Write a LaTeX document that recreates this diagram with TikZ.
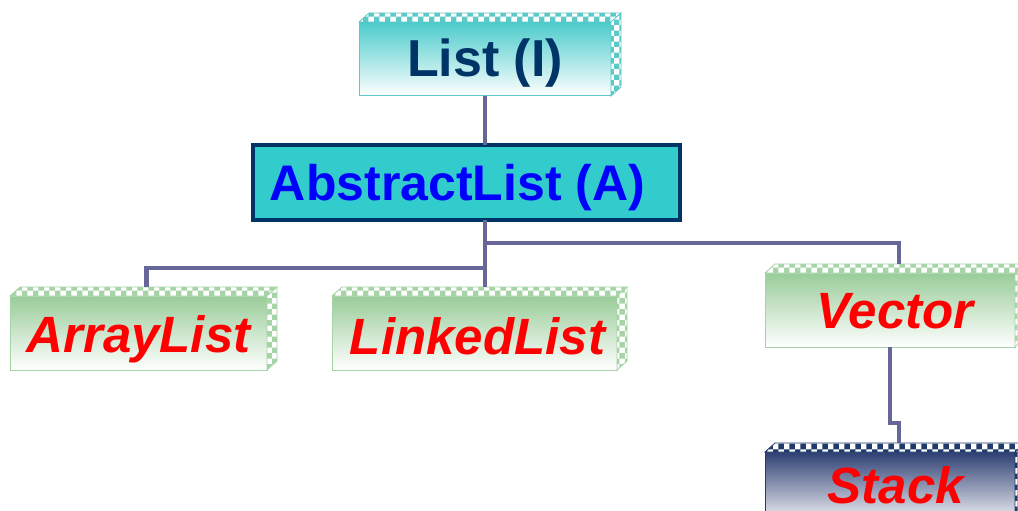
\documentclass[tikz,border=0pt]{standalone}
\usepackage{fontspec}
\setmainfont{Liberation Sans}
\usetikzlibrary{patterns}
\definecolor{conncol}{HTML}{666699}
\definecolor{tealtop}{HTML}{4CCBCB}
\definecolor{tealedge}{HTML}{5CC8C8}
\definecolor{greentop}{HTML}{99CC99}
\definecolor{greenedge}{HTML}{A6D4A6}
\definecolor{navytop}{HTML}{2E3F73}
\definecolor{navyedge}{HTML}{1F3A6B}
\definecolor{darknavy}{HTML}{003366}
\definecolor{absfill}{HTML}{33CCCC}
\newcommand{\bevelbox}[2]{%
  \path[preaction={fill=white}, pattern=checkerboard, pattern color=#2, draw=#2, line width=0.8pt]
    (#1.north west) -- ++(10,-9) -- ([xshift=10pt,yshift=9pt]#1.north east) -- (#1.north east) -- cycle;
  \path[preaction={fill=white}, pattern=checkerboard, pattern color=#2, draw=#2, line width=0.8pt]
    (#1.north east) -- ([xshift=10pt,yshift=9pt]#1.north east) -- ([xshift=10pt,yshift=9pt]#1.south east) -- (#1.south east) -- cycle;
}
\newcommand{\lowtext}[2]{\raisebox{-#1}[\height][\depth]{#2}}
\begin{document}
\begin{tikzpicture}[x=1pt,y=-1pt,
  conn/.style={draw=conncol, line width=4.5pt},
  boxbase/.style={draw, line width=1pt, inner sep=0pt, outer sep=0pt, anchor=center},
  redtext/.style={text=red, font=\bfseries\itshape\fontsize{51}{56}\selectfont},
  greenbox/.style={boxbase, redtext, draw=greenedge, top color=greentop, bottom color=white, minimum height=74pt},
  tealbox/.style={boxbase, draw=tealedge, top color=tealtop, bottom color=white, text=darknavy, font=\bfseries\fontsize{52}{58}\selectfont, minimum height=74pt},
  absbox/.style={boxbase, draw=darknavy, line width=4pt, fill=absfill, text=blue, font=\bfseries\fontsize{50}{56}\selectfont},
  navybox/.style={boxbase, redtext, draw=navyedge, top color=navytop, bottom color=white, minimum height=74pt}
]
\useasboundingbox (0,0) rectangle (1018,511);
\clip (0,0) rectangle (1018,511);
\fill[white] (0,0) rectangle (1018,511);

% nodes
\node[tealbox, minimum width=252pt] (list) at (485,59) {\lowtext{4pt}{List (I)}};
\node[absbox, minimum width=427pt, minimum height=75pt] (abs) at (466.5,182.5) {\hspace*{-18pt}\lowtext{5pt}{AbstractList (A)}};
\node[greenbox, minimum width=257pt] (array) at (138.5,333) {\lowtext{6pt}{ArrayList}};
\node[greenbox, minimum width=285pt] (linked) at (474.5,333) {\lowtext{3pt}{\hspace*{6pt}LinkedList}};
\node[greenbox, minimum width=250pt] (vector) at (890,310) {\lowtext{1pt}{\hspace*{10pt}Vector}};
\node[navybox, minimum width=250pt] (stack) at (890,489) {\lowtext{-4pt}{\hspace*{12pt}Stack}};

\bevelbox{list}{tealedge}
\bevelbox{array}{greenedge}
\bevelbox{linked}{greenedge}
\bevelbox{vector}{greenedge}
\bevelbox{stack}{navyedge}

% helper coordinates
\coordinate (linkedtop) at ([yshift=9pt]linked.north);
\coordinate (arraytop) at ([xshift=8pt,yshift=9pt]array.north);
\coordinate (vectortop) at ([xshift=9pt,yshift=9pt]vector.north);
\coordinate (stacktop) at ([xshift=9pt,yshift=9pt]stack.north);
\coordinate (jA) at (485,268);
\coordinate (jV) at (485,243);
\coordinate (jS) at (899,423);

% connectors
\draw[conn] (list.south) -- (list.south |- abs.north);
\draw[conn] (list.south |- abs.south) -- (list.south |- linkedtop);
\draw[conn] (jA) -| (arraytop);
\draw[conn] (jV) -| (vectortop);
\draw[conn] (vector.south) -- (vector.south |- jS) -- (jS) -- (stacktop);
\end{tikzpicture}
\end{document}
